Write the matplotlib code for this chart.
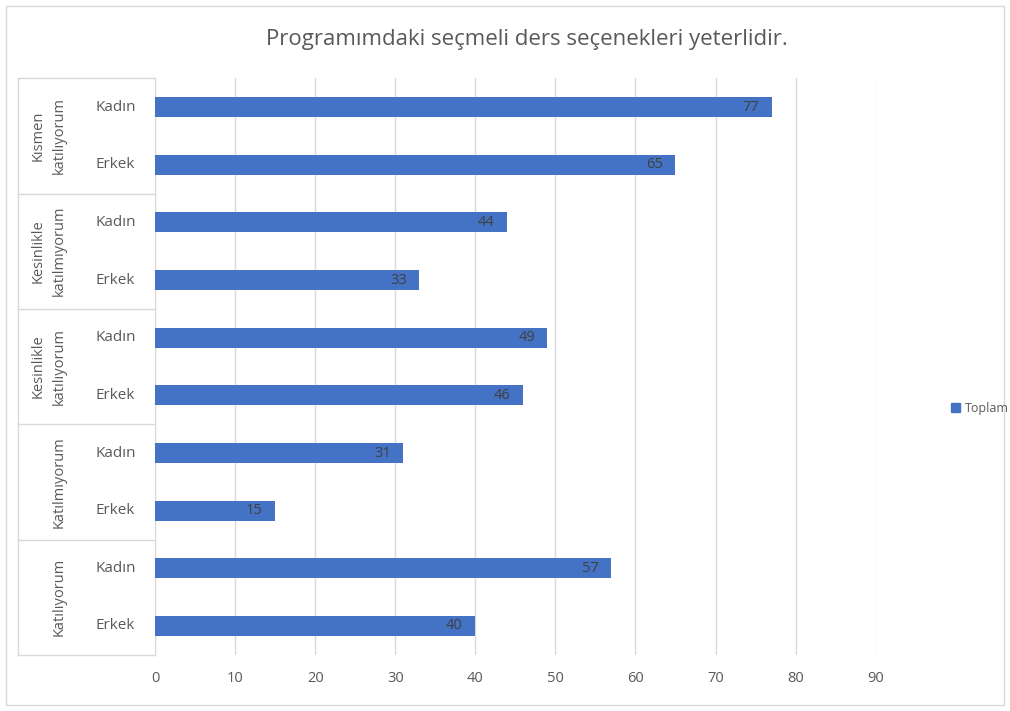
import matplotlib
matplotlib.use("Agg")
import matplotlib.pyplot as plt
from matplotlib.patches import Rectangle, Patch

# data, bottom to top as drawn
groups = ["Katılıyorum", "Katılmıyorum", "Kesinlikle\nkatılıyorum",
          "Kesinlikle\nkatılmıyorum", "Kısmen\nkatılıyorum"]
sexes = ["Erkek", "Kadın"]
values = [40, 57, 15, 31, 46, 49, 33, 44, 65, 77]
xticks = [0, 10, 20, 30, 40, 50, 60, 70, 80, 90]

bar_color = "#4472C4"
text_color = "#595959"
grid_color = "#D9D9D9"

plt.rcParams["font.family"] = ["Open Sans", "DejaVu Sans"]

fig = plt.figure(figsize=(10.1, 7.11), dpi=100)
ax = fig.add_axes([0.1535, 0.079, 0.7135, 0.811])

ypos = list(range(len(values)))
ax.barh(ypos, values, height=0.35, color=bar_color, zorder=3)

for y, v in zip(ypos, values):
    ax.annotate(str(v), (v, y), xytext=(-9, 0), textcoords="offset points",
                ha="right", va="center", fontsize=10.5, color="#404040", zorder=4)

ax.set_xlim(0, 90)
ax.set_ylim(-0.5, len(values) - 0.5)
ax.set_xticks(xticks)
ax.set_xticklabels([str(t) for t in xticks], fontsize=10.5, color=text_color)
ax.set_yticks([])
ax.tick_params(axis="x", length=0, pad=12)
ax.grid(axis="x", color=grid_color, linewidth=1, zorder=0)
for s in ["top", "right", "bottom"]:
    ax.spines[s].set_visible(False)
ax.spines["left"].set_color(grid_color)

# category table on the left
tr = ax.get_yaxis_transform()
x_left = -0.19
for i in range(len(groups) + 1):
    y = i * 2 - 0.5
    ax.plot([x_left, 0], [y, y], transform=tr, color=grid_color, lw=1, clip_on=False)
ax.plot([x_left, x_left], [-0.5, len(values) - 0.5], transform=tr,
        color=grid_color, lw=1, clip_on=False)

for i, y in enumerate(ypos):
    ax.text(-0.055, y, sexes[i % 2], transform=tr, ha="center", va="center",
            fontsize=11, color=text_color)
for g, name in enumerate(groups):
    ax.text(-0.122, g * 2 + 0.5, name, transform=tr, rotation=90, ha="right",
            va="center", multialignment="center", fontsize=10.5, color=text_color,
            linespacing=1.55)

fig.text(0.522, 0.945, "Programımdaki seçmeli ders seçenekleri yeterlidir.",
         ha="center", va="center", fontsize=16, color=text_color)

leg = fig.legend(handles=[Patch(color=bar_color, label="Toplam")],
                 loc="center left", bbox_to_anchor=(0.942, 0.426), frameon=False,
                 fontsize=9, handlelength=0.7, handleheight=0.7, handletextpad=0.35,
                 borderpad=0, borderaxespad=0)
for t in leg.get_texts():
    t.set_color(text_color)

fig.patches.append(Rectangle((0.006, 0.008), 0.988, 0.984, transform=fig.transFigure,
                             fill=False, edgecolor=grid_color, lw=1))

fig.savefig("out.png", dpi=100)
